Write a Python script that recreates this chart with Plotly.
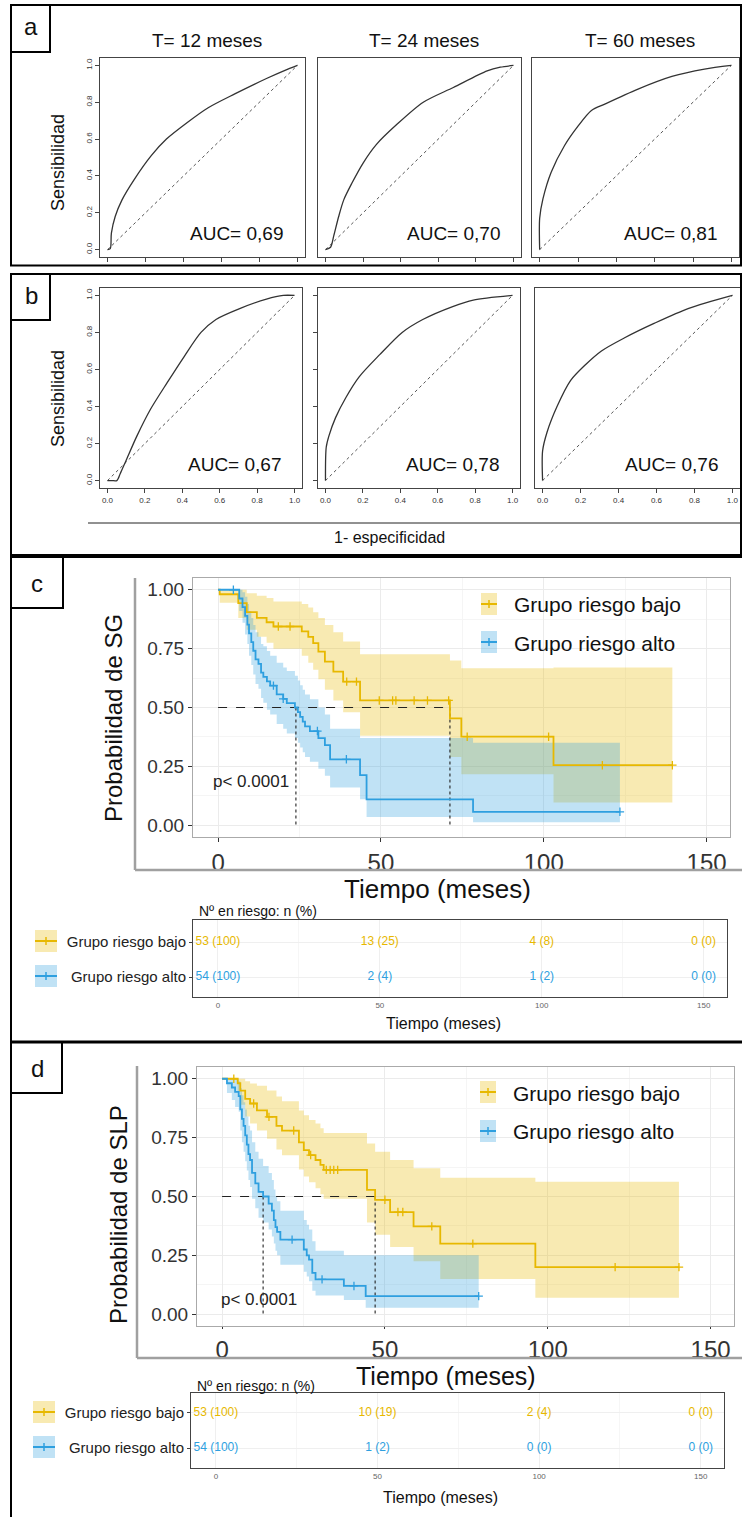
import numpy as np
import plotly.graph_objects as go

W, H = 742, 1517
FONT = "Arial, Liberation Sans, sans-serif"
YEL, BLU = "#E7B800", "#2E9FDF"
YEL_F, BLU_F = "rgba(231,184,0,0.30)", "rgba(46,159,223,0.30)"

# ---------------- ROC data ----------------
roc_titles = ["T= 12 meses", "T= 24 meses", "T= 60 meses"]
auc_a = ["AUC= 0,69", "AUC= 0,70", "AUC= 0,81"]
auc_b = ["AUC= 0,67", "AUC= 0,78", "AUC= 0,76"]
diag = [0, 1]

a12_fpr = [0, 0.014, 0.02, 0.04, 0.076, 0.14, 0.23, 0.31, 0.42, 0.53, 0.67, 0.84, 0.95, 1.0]
a12_tpr = [0, 0.005, 0.09, 0.18, 0.27, 0.38, 0.51, 0.60, 0.69, 0.77, 0.845, 0.93, 0.98, 1.0]
a24_fpr = [0, 0.027, 0.044, 0.07, 0.097, 0.14, 0.2, 0.27, 0.38, 0.52, 0.68, 0.86, 0.93, 1.0]
a24_tpr = [0, 0.013, 0.076, 0.18, 0.27, 0.36, 0.47, 0.57, 0.68, 0.80, 0.88, 0.97, 0.99, 1.0]
a60_fpr = [0, 0, 0.017, 0.06, 0.13, 0.2, 0.27, 0.34, 0.51, 0.69, 0.86, 1.0]
a60_tpr = [0, 0.17, 0.275, 0.42, 0.565, 0.67, 0.755, 0.79, 0.87, 0.94, 0.98, 1.0]
b12_fpr = [0, 0.023, 0.05, 0.068, 0.1, 0.157, 0.23, 0.32, 0.41, 0.5, 0.58, 0.71, 0.85, 0.94, 1.0]
b12_tpr = [0, 0, 0, 0.037, 0.11, 0.24, 0.385, 0.53, 0.67, 0.80, 0.87, 0.93, 0.98, 1.0, 1.0]
b24_fpr = [0, 0.004, 0.018, 0.054, 0.11, 0.18, 0.29, 0.41, 0.52, 0.68, 0.79, 1.0]
b24_tpr = [0, 0.18, 0.24, 0.34, 0.45, 0.56, 0.68, 0.80, 0.87, 0.94, 0.975, 1.0]
b60_fpr = [0, 0, 0.023, 0.076, 0.147, 0.22, 0.31, 0.43, 0.59, 0.77, 1.0]
b60_tpr = [0, 0.16, 0.26, 0.40, 0.54, 0.62, 0.70, 0.77, 0.85, 0.93, 1.0]

# ---------------- Kaplan-Meier data ----------------
grupos = ["Grupo riesgo bajo", "Grupo riesgo alto"]

c_bajo_t = [0, 0.5, 6.2, 8.8, 11.9, 14.9, 17.0, 25.7, 27.7, 29.2, 30.8, 32.8, 35.4, 38.4, 43.6, 71.2, 74.7, 103.0, 139.5]
c_bajo_s = [1.0, 0.981, 0.943, 0.905, 0.881, 0.862, 0.844, 0.823, 0.80, 0.773, 0.737, 0.695, 0.652, 0.61, 0.53, 0.454, 0.376, 0.255, 0.255]
c_bajo_lo = [1.0, 0.945, 0.88, 0.83, 0.80, 0.775, 0.75, 0.72, 0.69, 0.66, 0.62, 0.575, 0.53, 0.48, 0.38, 0.29, 0.216, 0.097, 0.097]
c_bajo_up = [1.0, 1.0, 1.0, 0.985, 0.975, 0.965, 0.95, 0.94, 0.925, 0.905, 0.88, 0.85, 0.82, 0.78, 0.726, 0.70, 0.667, 0.67, 0.67]
c_bajo_cens = [18.5, 22.1, 39.5, 42.5, 49.5, 53.6, 54.6, 60.2, 64.3, 70.8, 76.5, 101.5, 118.0, 139.5]

c_alto_t = [0, 6.5, 7.5, 8.3, 9.0, 9.5, 10.2, 10.8, 11.5, 12.4, 13.2, 13.9, 15.0, 16.0, 18.0, 20.0, 21.1, 23.6, 24.5, 25.2, 26.0, 26.7, 28.2, 30.8, 32.8, 34.4, 43.6, 45.6, 78.3, 123.4]
c_alto_s = [1.0, 0.963, 0.926, 0.889, 0.852, 0.815, 0.778, 0.741, 0.704, 0.685, 0.648, 0.63, 0.611, 0.593, 0.556, 0.537, 0.519, 0.50, 0.48, 0.46, 0.44, 0.42, 0.40, 0.37, 0.34, 0.28, 0.213, 0.11, 0.057, 0.057]
c_alto_lo = [1.0, 0.91, 0.86, 0.81, 0.77, 0.72, 0.68, 0.64, 0.60, 0.58, 0.54, 0.52, 0.49, 0.47, 0.43, 0.41, 0.39, 0.37, 0.35, 0.33, 0.31, 0.29, 0.27, 0.24, 0.21, 0.16, 0.11, 0.035, 0.013, 0.013]
c_alto_up = [1.0, 1.0, 0.99, 0.97, 0.94, 0.91, 0.88, 0.85, 0.82, 0.80, 0.77, 0.76, 0.74, 0.72, 0.69, 0.67, 0.655, 0.635, 0.615, 0.595, 0.575, 0.555, 0.535, 0.50, 0.47, 0.41, 0.37, 0.37, 0.35, 0.35]
c_alto_cens = [4.7, 17.0, 20.0, 30.5, 39.4, 123.4]
c_medianas = [71.2, 23.9]

d_bajo_t = [0, 4.8, 5.6, 7.1, 8.6, 10.7, 13.8, 16.7, 18.4, 23.6, 25.1, 26.7, 28.7, 30.2, 31.2, 44.5, 47.0, 51.6, 58.8, 67.0, 96.2, 140.3]
d_bajo_s = [1.0, 0.981, 0.95, 0.915, 0.895, 0.866, 0.838, 0.80, 0.78, 0.73, 0.697, 0.676, 0.655, 0.634, 0.613, 0.528, 0.486, 0.434, 0.373, 0.30, 0.20, 0.20]
d_bajo_lo = [1.0, 0.945, 0.89, 0.84, 0.81, 0.78, 0.745, 0.70, 0.675, 0.615, 0.585, 0.56, 0.535, 0.51, 0.49, 0.39, 0.338, 0.286, 0.225, 0.15, 0.07, 0.07]
d_bajo_up = [1.0, 1.0, 1.0, 0.99, 0.98, 0.97, 0.95, 0.925, 0.905, 0.865, 0.845, 0.825, 0.81, 0.79, 0.77, 0.725, 0.69, 0.655, 0.62, 0.58, 0.563, 0.563]
d_bajo_cens = [3.6, 9.7, 14.4, 22.0, 27.2, 32.0, 33.2, 34.3, 35.5, 50.0, 54.0, 55.5, 64.4, 77.0, 120.7, 140.3]

d_alto_t = [0, 1.5, 3.0, 4.0, 5.1, 5.6, 6.1, 6.6, 7.1, 7.6, 8.1, 8.6, 9.2, 10.2, 11.2, 12.6, 14.3, 15.3, 15.9, 16.4, 16.9, 17.9, 25.1, 26.0, 26.7, 27.7, 28.7, 37.4, 44.1, 78.8]
d_alto_s = [1.0, 0.981, 0.963, 0.944, 0.926, 0.87, 0.83, 0.80, 0.76, 0.72, 0.68, 0.655, 0.60, 0.556, 0.52, 0.50, 0.47, 0.44, 0.40, 0.37, 0.35, 0.317, 0.275, 0.25, 0.232, 0.176, 0.148, 0.12, 0.077, 0.077]
d_alto_lo = [1.0, 0.94, 0.91, 0.88, 0.86, 0.78, 0.73, 0.69, 0.65, 0.61, 0.57, 0.54, 0.49, 0.45, 0.41, 0.39, 0.36, 0.33, 0.30, 0.27, 0.25, 0.21, 0.18, 0.16, 0.14, 0.10, 0.08, 0.06, 0.028, 0.028]
d_alto_up = [1.0, 1.0, 1.0, 1.0, 0.99, 0.96, 0.93, 0.90, 0.87, 0.84, 0.80, 0.78, 0.73, 0.69, 0.66, 0.63, 0.60, 0.57, 0.53, 0.50, 0.48, 0.44, 0.40, 0.38, 0.36, 0.31, 0.27, 0.25, 0.25, 0.25]
d_alto_cens = [21.5, 30.7, 40.5, 78.8]
d_medianas = [47.0, 12.6]

# ---------------- risk tables ----------------
tabla_t = [0, 50, 100, 150]
c_riesgo_bajo = ["53 (100)", "13 (25)", "4 (8)", "0 (0)"]
c_riesgo_alto = ["54 (100)", "2 (4)", "1 (2)", "0 (0)"]
d_riesgo_bajo = ["53 (100)", "10 (19)", "2 (4)", "0 (0)"]
d_riesgo_alto = ["54 (100)", "1 (2)", "0 (0)", "0 (0)"]

# ============================================================
fig = go.Figure()
layout_axes = {}
annotations = []
shapes = []


def axn(i):
    return ("x" if i == 1 else f"x{i}", "y" if i == 1 else f"y{i}")


def set_axes(i, box, xcfg, ycfg):
    x0, x1, y0, y1 = box
    xk = "xaxis" if i == 1 else f"xaxis{i}"
    yk = "yaxis" if i == 1 else f"yaxis{i}"
    xa, ya = axn(i)
    xcfg = dict(xcfg, domain=[x0 / W, x1 / W], anchor=ya)
    ycfg = dict(ycfg, domain=[1 - y1 / H, 1 - y0 / H], anchor=xa)
    layout_axes[xk] = xcfg
    layout_axes[yk] = ycfg


def ann(text, x, y, size, color="#111111", angle=0, xanchor="center",
        yanchor="middle", xref="paper", yref="paper"):
    if xref == "paper":
        x = x / W
    if yref == "paper":
        y = 1 - y / H
    annotations.append(dict(text=text, x=x, y=y, xref=xref, yref=yref,
                            showarrow=False, textangle=angle,
                            xanchor=xanchor, yanchor=yanchor,
                            borderpad=0,
                            font=dict(family=FONT, size=size, color=color)))


def pline(x0, y0, x1, y1, color="black", width=2):
    shapes.append(dict(type="line", xref="paper", yref="paper",
                       x0=x0 / W, x1=x1 / W, y0=1 - y0 / H, y1=1 - y1 / H,
                       line=dict(color=color, width=width)))


def prect(x0, y0, x1, y1, line="black", fill="rgba(0,0,0,0)", width=2):
    shapes.append(dict(type="rect", xref="paper", yref="paper",
                       x0=x0 / W, x1=x1 / W, y0=1 - y1 / H, y1=1 - y0 / H,
                       line=dict(color=line, width=width), fillcolor=fill))


# ---------------- ROC panels ----------------
roc_boxes = [(100, 305, 58, 257), (318, 521, 58, 257), (532, 739, 58, 257),
             (100, 302, 288, 488), (318, 520, 288, 488), (535, 740, 288, 488)]
roc_data = [(a12_fpr, a12_tpr), (a24_fpr, a24_tpr), (a60_fpr, a60_tpr),
            (b12_fpr, b12_tpr), (b24_fpr, b24_tpr), (b60_fpr, b60_tpr)]
roc_auc = auc_a + auc_b
rtick = [0, 0.2, 0.4, 0.6, 0.8, 1.0]

for k in range(6):
    i = k + 1
    xa, ya = axn(i)
    fpr, tpr = roc_data[k]
    fig.add_trace(go.Scatter(x=diag, y=diag, mode="lines", xaxis=xa, yaxis=ya,
                             line=dict(color="#555555", width=1, dash="dot"),
                             hoverinfo="skip", showlegend=False))
    fig.add_trace(go.Scatter(x=fpr, y=tpr, mode="lines", xaxis=xa, yaxis=ya,
                             line=dict(color="#333333", width=1.3, shape="spline", smoothing=0.8),
                             hoverinfo="skip", showlegend=False))
    is_b = k >= 3
    left = k % 3 == 0
    xcfg = dict(range=[-0.04, 1.04], showgrid=False, zeroline=False,
                showline=True, mirror=True, linecolor="#444444", linewidth=1,
                tickvals=rtick, ticks="outside", ticklen=4, tickcolor="#444444",
                showticklabels=is_b, tickformat=".1f",
                tickfont=dict(family=FONT, size=8, color="#333333"))
    ycfg = dict(range=[-0.04, 1.04], showgrid=False, zeroline=False,
                showline=True, mirror=True, linecolor="#444444", linewidth=1,
                tickvals=rtick, ticks="outside" if (left or k == 4) else "",
                ticklen=4, tickcolor="#444444",
                showticklabels=left, tickformat=".1f", tickangle=-90,
                tickfont=dict(family=FONT, size=8, color="#333333"))
    set_axes(i, roc_boxes[k], xcfg, ycfg)
    ann(roc_auc[k], 0.68, 0.09 if not is_b else 0.085, 19, "#111111",
        xref=xa, yref=ya)
    if not is_b:
        bx = roc_boxes[k]
        ann(roc_titles[k], (bx[0] + bx[1]) / 2 + 4, 40, 19)

ann("Sensibilidad", 58, 163, 18, angle=-90)
ann("Sensibilidad", 58, 399, 18, angle=-90)
ann("1- especificidad", 390, 538, 16)
pline(88, 523, 740, 523, color="#222222", width=1)

# ---------------- KM panels ----------------
def step_val(t, s, x):
    idx = np.searchsorted(np.asarray(t), np.asarray(x), side="right") - 1
    return list(np.asarray(s)[idx])


def km_panel(i, box, series, medians, p_xy, xticklen):
    xa, ya = axn(i)
    for (t, s, lo, up, cens, col, fcol) in series:
        fig.add_trace(go.Scatter(x=t, y=lo, mode="lines", xaxis=xa, yaxis=ya,
                                 line=dict(width=0, shape="hv", color=fcol),
                                 hoverinfo="skip", showlegend=False))
        fig.add_trace(go.Scatter(x=t, y=up, mode="lines", xaxis=xa, yaxis=ya,
                                 line=dict(width=0, shape="hv", color=fcol),
                                 fill="tonexty", fillcolor=fcol,
                                 hoverinfo="skip", showlegend=False))
    # median lines
    fig.add_trace(go.Scatter(x=[0, max(medians)], y=[0.5, 0.5], mode="lines",
                             xaxis=xa, yaxis=ya,
                             line=dict(color="#222222", width=1.1, dash="dash"),
                             hoverinfo="skip", showlegend=False))
    for m in medians:
        fig.add_trace(go.Scatter(x=[m, m], y=[0.5, 0], mode="lines",
                                 xaxis=xa, yaxis=ya,
                                 line=dict(color="#222222", width=1.1, dash="dot"),
                                 hoverinfo="skip", showlegend=False))
    for (t, s, lo, up, cens, col, fcol) in series:
        fig.add_trace(go.Scatter(x=t, y=s, mode="lines", xaxis=xa, yaxis=ya,
                                 line=dict(width=1.8, shape="hv", color=col),
                                 hoverinfo="skip", showlegend=False))
        fig.add_trace(go.Scatter(x=cens, y=step_val(t, s, cens), mode="markers",
                                 xaxis=xa, yaxis=ya,
                                 marker=dict(symbol="cross-thin", size=6, color=col,
                                             line=dict(width=1.3, color=col)),
                                 hoverinfo="skip", showlegend=False))
    xcfg = dict(range=[-7.7, 157.2], tickvals=tabla_t, zeroline=False,
                showgrid=True, gridcolor="#EBEBEB", gridwidth=1,
                minor=dict(dtick=25, tick0=0, showgrid=True, gridcolor="#F5F5F5"),
                showline=True, mirror=True, linecolor="#AAAAAA", linewidth=1,
                ticks="outside", ticklen=xticklen, tickcolor="#333333",
                tickfont=dict(family=FONT, size=24, color="#333333"))
    ycfg = dict(range=[-0.05, 1.05], tickvals=[0, 0.25, 0.5, 0.75, 1.0],
                tickformat=".2f", zeroline=False,
                showgrid=True, gridcolor="#EBEBEB", gridwidth=1,
                minor=dict(dtick=0.125, tick0=0, showgrid=True, gridcolor="#F5F5F5"),
                showline=True, mirror=True, linecolor="#AAAAAA", linewidth=1,
                ticks="outside", ticklen=4, tickcolor="#333333",
                tickfont=dict(family=FONT, size=19, color="#333333"))
    set_axes(i, box, xcfg, ycfg)
    ann("p< 0.0001", p_xy[0], p_xy[1], 17, "#222222", xref=xa, yref=ya)


km_panel(7, (193, 730, 578, 837),
         [(c_bajo_t, c_bajo_s, c_bajo_lo, c_bajo_up, c_bajo_cens, YEL, YEL_F),
          (c_alto_t, c_alto_s, c_alto_lo, c_alto_up, c_alto_cens, BLU, BLU_F)],
         c_medianas, (10, 0.184), 4)
km_panel(9, (197, 734, 1067, 1326),
         [(d_bajo_t, d_bajo_s, d_bajo_lo, d_bajo_up, d_bajo_cens, YEL, YEL_F),
          (d_alto_t, d_alto_s, d_alto_lo, d_alto_up, d_alto_cens, BLU, BLU_F)],
         d_medianas, (11.3, 0.063), 2)

ann("Probabilidad de SG", 113, 718, 24, angle=-90)
ann("Probabilidad de SLP", 118, 1215, 24, angle=-90)
ann("Tiempo (meses)", 437, 889, 26)
ann("Tiempo (meses)", 446, 1376, 25)

# gray outer axis lines
pline(135, 578, 135, 870, color="#A0A0A0", width=2.5)
pline(135, 870, 742, 870, color="#A0A0A0", width=2.5)
pline(137, 1066, 137, 1358, color="#A0A0A0", width=2.5)
pline(137, 1358, 742, 1358, color="#A0A0A0", width=2.5)


# legend keys
def key(xc, yc, hw, hh, col, fcol):
    prect(xc - hw, yc - hh, xc + hw, yc + hh, line="rgba(0,0,0,0)", fill=fcol, width=0)
    pline(xc - hw, yc, xc + hw, yc, color=col, width=2)
    pline(xc, yc - 4, xc, yc + 4, color=col, width=1.5)


key(489, 604, 8, 11, YEL, YEL_F)
key(489, 642, 8, 11, BLU, BLU_F)
ann(grupos[0], 513, 605, 21, xanchor="left")
ann(grupos[1], 513, 643, 21, xanchor="left")
key(488, 1092, 8, 11, YEL, YEL_F)
key(488, 1131, 8, 11, BLU, BLU_F)
ann(grupos[0], 512, 1093, 21, xanchor="left")
ann(grupos[1], 512, 1131, 21, xanchor="left")


# ---------------- risk tables ----------------
def risk_table(i, box, bajo, alto, yr):
    xa, ya = axn(i)
    fig.add_trace(go.Scatter(x=tabla_t, y=[grupos[0]] * len(tabla_t), mode="text",
                             text=bajo, xaxis=xa, yaxis=ya,
                             textfont=dict(family=FONT, size=12, color=YEL),
                             hoverinfo="skip", showlegend=False))
    fig.add_trace(go.Scatter(x=tabla_t, y=[grupos[1]] * len(tabla_t), mode="text",
                             text=alto, xaxis=xa, yaxis=ya,
                             textfont=dict(family=FONT, size=12, color=BLU),
                             hoverinfo="skip", showlegend=False))
    xcfg = dict(range=[-7.7, 157.2], tickvals=tabla_t, zeroline=False,
                showgrid=True, gridcolor="#EFEFEF",
                minor=dict(dtick=25, tick0=0, showgrid=True, gridcolor="#F6F6F6"),
                showline=True, mirror=True, linecolor="#444444", linewidth=1,
                ticks="", tickfont=dict(family=FONT, size=8, color="#666666"))
    ycfg = dict(type="category", categoryorder="array",
                categoryarray=[grupos[1], grupos[0]], range=yr,
                showgrid=True, gridcolor="#EFEFEF", zeroline=False,
                showline=True, mirror=True, linecolor="#444444", linewidth=1,
                ticks="outside", ticklen=3, tickcolor="#444444",
                tickfont=dict(family=FONT, size=15, color="#222222"))
    set_axes(i, box, xcfg, ycfg)


risk_table(8, (193, 727, 920, 997), c_riesgo_bajo, c_riesgo_alto, [-0.57, 1.63])
risk_table(10, (191, 724, 1393, 1468), d_riesgo_bajo, d_riesgo_alto, [-0.57, 1.57])

ann("Nº en riesgo: n (%)", 198, 911, 14, xanchor="left")
ann("Tiempo (meses)", 443, 1023, 16)
ann("Nº en riesgo: n (%)", 196, 1386, 14, xanchor="left")
ann("Tiempo (meses)", 440, 1497, 16)

key(46, 941, 11, 11, YEL, YEL_F)
key(46, 976, 11, 11, BLU, BLU_F)
key(44, 1412, 11, 11, YEL, YEL_F)
key(44, 1447, 11, 11, BLU, BLU_F)

# ---------------- panel frames & letters ----------------
prect(11, 5, 741, 265.5)
prect(11, 5, 50, 52)
ann("a", 31, 27, 24)
prect(11, 274, 741, 555)
prect(11, 274, 50, 320)
ann("b", 31, 296, 24)
pline(11, 557, 742, 557)
pline(11, 556, 11, 1042)
pline(11, 1042, 742, 1042, width=3)
prect(11, 557, 63, 608)
ann("c", 37, 583, 24)
pline(11, 1042, 11, 1517)
prect(11, 1042, 62, 1093)
ann("d", 37, 1068, 24)

fig.update_layout(width=W, height=H, autosize=False,
                  margin=dict(l=0, r=0, t=0, b=0, pad=0),
                  paper_bgcolor="white", plot_bgcolor="white",
                  showlegend=False, hovermode=False,
                  annotations=annotations, shapes=shapes,
                  font=dict(family=FONT), **layout_axes)

fig.write_html("out.html")
